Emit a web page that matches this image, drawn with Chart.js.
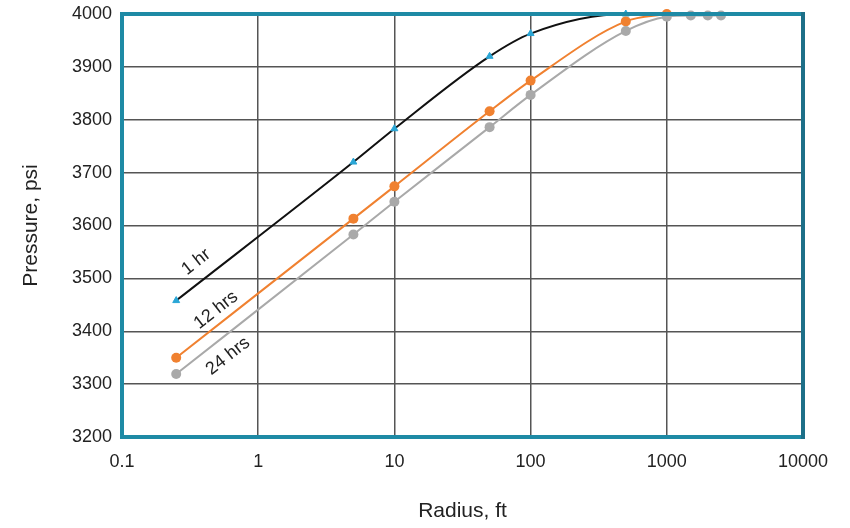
<!DOCTYPE html>
<html><head><meta charset="utf-8">
<script src="https://cdn.jsdelivr.net/npm/chart.js@4"></script>
<style>html,body{margin:0;padding:0;background:#fff}#wrap{width:850px;height:528px}</style>
</head><body><div id="wrap"><canvas id="c" width="850" height="528"></canvas></div>
<script>
const xTicks = [0.1, 1, 10, 100, 1000, 10000];
const yTicks = [3200, 3300, 3400, 3500, 3600, 3700, 3800, 3900, 4000];

const r1hr = [0.25, 5, 10, 50, 100, 500, 1000];
const p1hr = [3458, 3720, 3783, 3920, 3963, 4000, 4000];

const r12hr = [0.25, 5, 10, 50, 100, 500, 1000];
const p12hr = [3350, 3613, 3674, 3816, 3874, 3986, 4000];

const r24hr = [0.25, 5, 10, 50, 100, 500, 1000, 1500, 2000, 2500];
const p24hr = [3319, 3583, 3645, 3786, 3847, 3968, 3995, 3997, 3997, 3997];

const seriesLabels = ["1 hr", "12 hrs", "24 hrs"];
const labelPosX = [0.35, 0.49, 0.6];
const labelPosY = [3531, 3440, 3353];

const pts = (xs, ys) => xs.map((x, i) => ({x: x, y: ys[i]}));
const FONT = '"Liberation Sans", Arial, sans-serif';

const frame = {
  id: 'frame',
  afterDatasetsDraw(chart) {
    const {ctx, chartArea: a, scales} = chart;
    ctx.save();
    ctx.fillStyle = '#222';
    ctx.font = '18px ' + FONT;
    ctx.textAlign = 'center';
    ctx.textBaseline = 'middle';
    seriesLabels.forEach((t, i) => {
      const px = scales.x.getPixelForValue(labelPosX[i]);
      const py = scales.y.getPixelForValue(labelPosY[i]);
      ctx.save();
      ctx.translate(px, py);
      ctx.rotate(-38 * Math.PI / 180);
      ctx.fillText(t, 0, 0);
      ctx.restore();
    });
    ctx.lineWidth = 4;
    ctx.strokeStyle = '#1e8aa5';
    ctx.beginPath();
    ctx.moveTo(a.right + 2, a.top);
    ctx.lineTo(a.left, a.top);
    ctx.lineTo(a.left, a.bottom);
    ctx.lineTo(a.right + 2, a.bottom);
    ctx.stroke();
    ctx.strokeStyle = '#1d6f88';
    ctx.beginPath();
    ctx.moveTo(a.right, a.top - 2);
    ctx.lineTo(a.right, a.bottom + 2);
    ctx.stroke();
    ctx.restore();
  }
};

new Chart(document.getElementById('c'), {
  type: 'scatter',
  data: {
    datasets: [
      {label: '24 hrs', data: pts(r24hr, p24hr), showLine: true, borderColor: '#a9a9a9', backgroundColor: '#a9a9a9',
       borderWidth: 2, pointRadius: 5, pointHoverRadius: 5, pointBorderWidth: 0, cubicInterpolationMode: 'monotone', clip: false},
      {label: '12 hrs', data: pts(r12hr, p12hr), showLine: true, borderColor: '#f08130', backgroundColor: '#f08130',
       borderWidth: 2, pointRadius: 5, pointHoverRadius: 5, pointBorderWidth: 0, cubicInterpolationMode: 'monotone', clip: false},
      {label: '1 hr', data: pts(r1hr, p1hr), showLine: true, borderColor: '#111', backgroundColor: '#2aa6d6',
       borderWidth: 2, pointRadius: 4, pointHoverRadius: 4, pointBorderWidth: 1, pointBorderColor: '#2aa6d6', pointStyle: 'triangle',
       cubicInterpolationMode: 'monotone', clip: false}
    ]
  },
  options: {
    responsive: false,
    animation: false,
    events: [],
    layout: {padding: {left: 0, right: 47, top: 14, bottom: 0}},
    plugins: {legend: {display: false}, tooltip: {enabled: false}},
    scales: {
      x: {
        type: 'logarithmic', min: 0.1, max: 10000,
        afterBuildTicks(s) { s.ticks = xTicks.map(v => ({value: v})); },
        afterFit(s) { s.height = 91; s.paddingLeft = 0; s.paddingRight = 0; },
        ticks: {color: '#222', font: {size: 18, family: FONT}, padding: 14,
                callback: v => String(v), autoSkip: false, maxRotation: 0},
        grid: {color: '#555', lineWidth: 1.5, drawTicks: false},
        border: {display: false},
        title: {display: true, text: 'Radius, ft', color: '#222', font: {size: 21, family: FONT}, padding: {top: 20}}
      },
      y: {
        min: 3200, max: 4000,
        afterBuildTicks(s) { s.ticks = yTicks.map(v => ({value: v})); },
        afterFit(s) { s.width = 122; s.paddingTop = 0; s.paddingBottom = 0; },
        ticks: {color: '#222', font: {size: 18, family: FONT}, padding: 10, callback: v => String(v)},
        grid: {color: '#555', lineWidth: 1.5, drawTicks: false},
        border: {display: false},
        title: {display: true, text: 'Pressure, psi', color: '#222', font: {size: 21, family: FONT}, padding: {top: 19, bottom: 4}}
      }
    }
  },
  plugins: [frame]
});
</script></body></html>
